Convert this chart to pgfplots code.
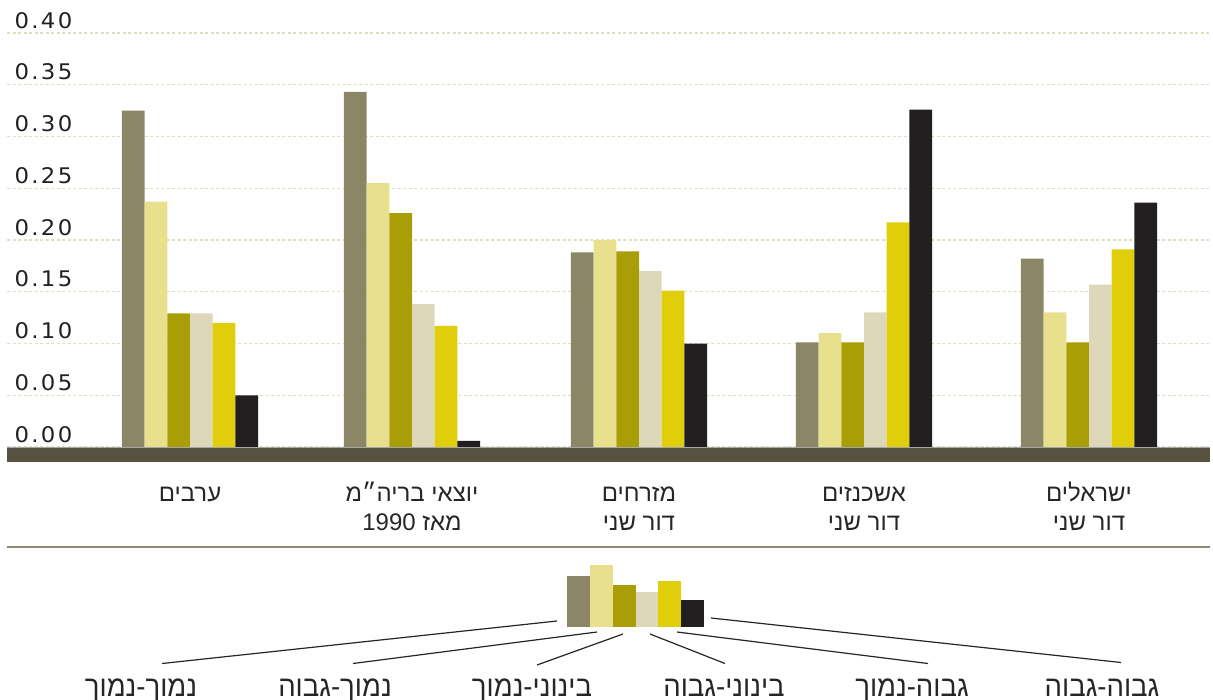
\documentclass[border=0pt]{standalone}
\usepackage{pgfplots}
\pgfplotsset{compat=1.18}
\usepackage{fontspec}
\setmainfont{Open Sans}
\newfontfamily\tickfont[FakeStretch=1.06,LetterSpace=11]{DejaVu Sans}
\newfontfamily\hebfont[Script=Hebrew]{Liberation Sans}
\newfontfamily\hebcond[Script=Hebrew,FakeStretch=0.95]{Liberation Sans}
\TeXXeTstate=1
\definecolor{cA}{HTML}{8B8665}
\definecolor{cB}{HTML}{E8E08D}
\definecolor{cC}{HTML}{AA9E06}
\definecolor{cD}{HTML}{DDD8BA}
\definecolor{cE}{HTML}{E0CE0A}
\definecolor{cF}{HTML}{231F20}
\definecolor{bandc}{HTML}{57523F}
\definecolor{gridc}{HTML}{E0DEBE}
\definecolor{sepc}{HTML}{8C8873}
\begin{document}
\begin{tikzpicture}[x=1pt,y=1pt]
\useasboundingbox (0pt,0pt) rectangle (1213pt,-700pt);
\begin{axis}[
  at={(7pt,-447pt)}, anchor=south west, scale only axis,
  width=1203pt, height=414pt,
  xmin=0, xmax=1203, ymin=0, ymax=0.40,
  axis line style={draw=none},
  xtick=\empty,
  ytick={0,0.05,0.1,0.15,0.2,0.25,0.3,0.35,0.4},
  major tick length=0pt,
  ymajorgrids,
  grid style={color=gridc, line width=1.4pt, dash pattern=on 3pt off 2.5pt},
  /pgf/number format/assume math mode=true,
  /pgf/number format/.cd, fixed, fixed zerofill, precision=2, /pgfplots/.cd,
  yticklabel={\pgfmathprintnumber{\tick}},
  yticklabel style={anchor=base west, xshift=4pt, yshift=5pt, text=cF,
    font=\tickfont\fontsize{21.5}{21.5}\selectfont},
  ybar=0pt, bar width=22.7,
  clip=false,
]
\addplot[fill=cA, draw=none] coordinates {(183,0.325) (405,0.343) (632,0.188) (857,0.101) (1082,0.182)};
\addplot[fill=cB, draw=none] coordinates {(183,0.237) (405,0.255) (632,0.200) (857,0.110) (1082,0.130)};
\addplot[fill=cC, draw=none] coordinates {(183,0.129) (405,0.226) (632,0.189) (857,0.101) (1082,0.101)};
\addplot[fill=cD, draw=none] coordinates {(183,0.129) (405,0.138) (632,0.170) (857,0.130) (1082,0.157)};
\addplot[fill=cE, draw=none] coordinates {(183,0.120) (405,0.117) (632,0.151) (857,0.217) (1082,0.191)};
\addplot[fill=cF, draw=none] coordinates {(183,0.050) (405,0.006) (632,0.100) (857,0.326) (1082,0.236)};
\end{axis}
% base band
\fill[bandc] (7,-447) rectangle (1210,-462);
\draw[black!35, line width=0.8pt] (7,-447) -- (1210,-447);
% category labels
\begin{scope}[every node/.style={anchor=base, text=black!85, font=\hebfont\fontsize{24}{24}\selectfont, inner sep=0pt}]
\node at (190,-501) {\beginR ערבים\endR};
\node at (412,-501) {\beginR יוצאי בריה״מ\endR};
\node at (412,-530) {\beginR מאז \beginL1990\endL\endR};
\node at (639,-501) {\beginR מזרחים\endR};
\node at (639,-530) {\beginR דור שני\endR};
\node at (864,-501) {\beginR אשכנזים\endR};
\node at (864,-530) {\beginR דור שני\endR};
\node at (1089,-501) {\beginR ישראלים\endR};
\node at (1089,-530) {\beginR דור שני\endR};
\end{scope}
% separator
\draw[sepc, line width=1.3pt] (7,-547) -- (1210,-547);
% legend mini chart
\begin{axis}[
  at={(567pt,-627pt)}, anchor=south west, scale only axis,
  width=137pt, height=62pt,
  xmin=0, xmax=137, ymin=0, ymax=62,
  hide axis, ybar=0pt, bar width=22.8, clip=false,
]
\addplot[fill=cA, draw=none] coordinates {(68.5,51)};
\addplot[fill=cB, draw=none] coordinates {(68.5,62)};
\addplot[fill=cC, draw=none] coordinates {(68.5,42)};
\addplot[fill=cD, draw=none] coordinates {(68.5,35)};
\addplot[fill=cE, draw=none] coordinates {(68.5,46)};
\addplot[fill=cF, draw=none] coordinates {(68.5,27)};
\end{axis}
\begin{scope}[line width=1.2pt, black!85]
\draw (557,-621) -- (162,-663.5);
\draw (597,-632) -- (353,-663.5);
\draw (623,-634) -- (537,-665);
\draw (650,-634) -- (725,-663.5);
\draw (677,-632) -- (928,-663.5);
\draw (711,-618) -- (1121,-662.5);
\end{scope}
\begin{scope}[every node/.style={anchor=base, text=black!85, font=\hebcond\fontsize{29}{29}\selectfont, inner sep=0pt}]
\node at (141,-696) {\beginR נמוך-נמוך\endR};
\node at (335,-696) {\beginR נמוך-גבוה\endR};
\node at (532,-696) {\beginR בינוני-נמוך\endR};
\node at (724,-696) {\beginR בינוני-גבוה\endR};
\node at (912,-696) {\beginR גבוה-נמוך\endR};
\node at (1102,-696) {\beginR גבוה-גבוה\endR};
\end{scope}
\end{tikzpicture}
\end{document}
